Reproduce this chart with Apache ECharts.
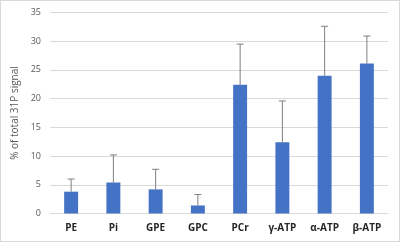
<!DOCTYPE html>
<html>
<head>
<meta charset="utf-8">
<script src="https://cdn.jsdelivr.net/npm/echarts@6/dist/echarts.min.js"></script>
<style>
  html, body { margin: 0; padding: 0; background: #fff; }
  #chart { width: 400px; height: 242px; box-sizing: border-box; border: 1px solid #d9d9d9; }
</style>
</head>
<body>
<div id="chart"></div>
<script>
const categories = ['PE', 'Pi', 'GPE', 'GPC', 'PCr', 'γ-ATP', 'α-ATP', 'β-ATP'];
const means = [3.8, 5.4, 4.2, 1.4, 22.4, 12.4, 24.0, 26.1];
const errorTops = [6.0, 10.2, 7.7, 3.3, 29.5, 19.6, 32.6, 30.9];
const yTicks = [0, 5, 10, 15, 20, 25, 30, 35];

const chart = echarts.init(document.getElementById('chart'));

const option = {
  animation: false,
  grid: {
    left: 49,
    right: 11,
    top: 11.5,
    bottom: 27.5
  },
  xAxis: {
    type: 'category',
    data: categories,
    axisTick: { show: false },
    axisLine: { lineStyle: { color: '#d9d9d9' } },
    axisLabel: {
      color: '#262626',
      fontFamily: 'Open Sans',
      fontWeight: 'bold',
      fontSize: 10,
      margin: 10
    }
  },
  yAxis: {
    type: 'value',
    min: yTicks[0],
    max: yTicks[yTicks.length - 1],
    interval: 5,
    name: '% of total 31P signal',
    nameLocation: 'middle',
    nameGap: 27,
    nameTextStyle: {
      color: '#595959',
      fontFamily: 'Open Sans',
      fontSize: 10
    },
    axisLine: { show: false },
    axisTick: { show: false },
    splitLine: { lineStyle: { color: '#d9d9d9' } },
    axisLabel: {
      color: '#595959',
      fontFamily: 'Open Sans',
      fontSize: 9,
      margin: 9
    }
  },
  series: [
    {
      type: 'bar',
      data: means,
      barWidth: '33%',
      itemStyle: { color: '#4472c4' }
    },
    {
      type: 'custom',
      data: categories.map((c, i) => [i, means[i], errorTops[i]]),
      z: 3,
      renderItem(params, api) {
        const base = api.coord([api.value(0), api.value(1)]);
        const top = api.coord([api.value(0), api.value(2)]);
        const half = 3.5;
        const style = { stroke: '#7f7f7f', lineWidth: 1 };
        return {
          type: 'group',
          children: [
            {
              type: 'line',
              shape: { x1: base[0], y1: base[1], x2: top[0], y2: top[1] },
              style
            },
            {
              type: 'line',
              shape: { x1: top[0] - half, y1: top[1], x2: top[0] + half, y2: top[1] },
              style
            }
          ]
        };
      }
    }
  ]
};

chart.setOption(option);
</script>
</body>
</html>
